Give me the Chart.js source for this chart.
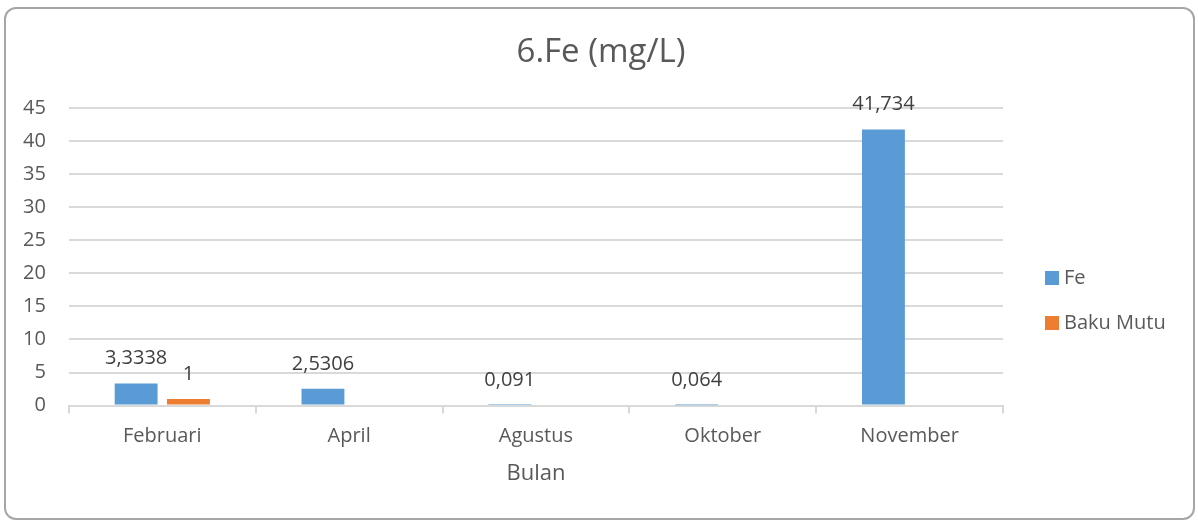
<!DOCTYPE html>
<html>
<head>
<meta charset="utf-8">
<script src="https://cdn.jsdelivr.net/npm/chart.js@4"></script>
<style>
  html, body { margin: 0; padding: 0; background: #fff; }
  #wrap { position: relative; width: 1198px; height: 522px; }
  #frame { position: absolute; left: 4px; top: 7px; width: 1187px; height: 509px;
           border: 2px solid #a6a6a6; border-radius: 12px; pointer-events: none; }
</style>
</head>
<body>
<div id="wrap">
  <canvas id="feChart" width="1198" height="522"></canvas>
  <div id="frame"></div>
</div>
<script>
const months = ['Februari', 'April', 'Agustus', 'Oktober', 'November'];
const feValues = [3.3338, 2.5306, 0.091, 0.064, 41.734];
const bakuMutu = [1, null, null, null, null];
const yTicks = [0, 5, 10, 15, 20, 25, 30, 35, 40, 45];
const chartTitle = '6.Fe (mg/L)';

const fontFam = '"Open Sans", "Noto Sans", sans-serif';
const textCol = '#595959';

// labels above each bar, comma decimals like the original sheet
const barLabels = {
  id: 'barLabels',
  afterDatasetsDraw(chart) {
    const ctx = chart.ctx;
    ctx.save();
    ctx.font = '20px ' + fontFam;
    ctx.fillStyle = '#404040';
    ctx.textAlign = 'center';
    ctx.textBaseline = 'middle';
    chart.data.datasets.forEach((ds, i) => {
      chart.getDatasetMeta(i).data.forEach((bar, j) => {
        const v = ds.data[j];
        if (v === null || v === undefined) return;
        ctx.fillText(String(v).replace('.', ','), bar.x, bar.y - 25);
      });
    });
    ctx.restore();
  }
};

// title centred on the whole canvas + legend on the right, excel style
const sideBits = {
  id: 'sideBits',
  afterDraw(chart) {
    const ctx = chart.ctx;
    ctx.save();
    ctx.textBaseline = 'middle';
    ctx.fillStyle = textCol;
    ctx.textAlign = 'center';
    ctx.font = '33px ' + fontFam;
    ctx.fillText(chartTitle, 601, 53);

    ctx.textAlign = 'left';
    ctx.font = '20px ' + fontFam;
    chart.data.datasets.forEach((ds, i) => {
      const y = 278 + i * 45;
      ctx.fillStyle = ds.backgroundColor;
      ctx.fillRect(1045, y - 7, 14, 14);
      ctx.fillStyle = textCol;
      ctx.fillText(ds.label, 1064, y);
    });
    ctx.restore();
  }
};

new Chart(document.getElementById('feChart'), {
  type: 'bar',
  data: {
    labels: months,
    datasets: [
      { label: 'Fe', data: feValues, backgroundColor: '#5B9BD5' },
      { label: 'Baku Mutu', data: bakuMutu, backgroundColor: '#ED7D31' }
    ]
  },
  options: {
    responsive: false,
    animation: false,
    categoryPercentage: 0.56,
    barPercentage: 0.82,
    layout: { padding: { top: 108, left: 0, right: 195, bottom: 35 } },
    plugins: {
      legend: { display: false },
      tooltip: { enabled: false },
      title: { display: false }
    },
    scales: {
      x: {
        grid: { display: true, drawOnChartArea: false, offset: true, color: '#d9d9d9', lineWidth: 2, tickLength: 8 },
        border: { color: '#d9d9d9', width: 2 },
        ticks: { color: textCol, font: { family: fontFam, size: 20 }, padding: 11 },
        title: { display: true, text: 'Bulan', color: textCol, font: { family: fontFam, size: 22 }, padding: { top: 1, bottom: 0 } }
      },
      y: {
        min: 0,
        max: 45,
        afterBuildTicks(axis) { axis.ticks = yTicks.map(v => ({ value: v })); },
        grid: { color: '#d9d9d9', lineWidth: 2, drawTicks: false },
        border: { display: false },
        ticks: { color: textCol, font: { family: fontFam, size: 20 }, padding: 23 }
      }
    }
  },
  plugins: [barLabels, sideBits]
});
</script>
</body>
</html>
